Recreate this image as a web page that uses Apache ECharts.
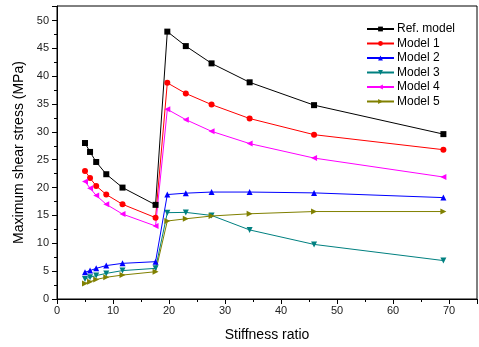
<!DOCTYPE html>
<html>
<head>
<meta charset="utf-8">
<script src="https://cdn.jsdelivr.net/npm/echarts@6/dist/echarts.min.js"></script>
<style>
  html, body { margin: 0; padding: 0; background: #fff; }
  #chart { width: 479px; height: 347px; }
</style>
</head>
<body>
<div id="chart"></div>
<script>
// stiffness ratio (x) for every series
const stiffness = [5.0, 5.9, 7.0, 8.8, 11.7, 17.6, 19.7, 23.0, 27.6, 34.4, 45.9, 69.0];

const refModel = [28.0, 26.4, 24.6, 22.4, 20.0, 16.9, 48.0, 45.4, 42.3, 38.9, 34.8, 29.6];
const model1 = [23.0, 21.7, 20.3, 18.75, 17.0, 14.6, 38.8, 36.9, 34.9, 32.4, 29.5, 26.8];
const model2 = [4.8, 5.1, 5.5, 6.0, 6.4, 6.7, 18.75, 19.0, 19.2, 19.2, 19.05, 18.2];
const model3 = [3.6, 3.9, 4.2, 4.6, 5.1, 5.5, 15.5, 15.55, 15.0, 12.4, 9.8, 6.9];
const model4 = [21.1, 19.9, 18.6, 17.0, 15.25, 13.1, 34.05, 32.2, 30.1, 27.9, 25.3, 21.9];
const model5 = [2.8, 3.1, 3.5, 3.9, 4.3, 4.9, 14.0, 14.4, 14.9, 15.3, 15.7, 15.7];

const seriesDefs = [
  { name: "Ref. model", values: refModel, color: "#000000", symbol: "rect", rotate: 0 },
  { name: "Model 1", values: model1, color: "#ff0000", symbol: "circle", rotate: 0 },
  { name: "Model 2", values: model2, color: "#0000ff", symbol: "triangle", rotate: 0 },
  { name: "Model 3", values: model3, color: "#008080", symbol: "triangle", rotate: 180 },
  { name: "Model 4", values: model4, color: "#ff00ff", symbol: "triangle", rotate: 90 },
  { name: "Model 5", values: model5, color: "#808000", symbol: "triangle", rotate: -90 },
];

const fontFamily = "'Liberation Sans', Arial, sans-serif";
const chart = echarts.init(document.getElementById("chart"), null, { renderer: "canvas" });

chart.setOption({
  animation: false,
  backgroundColor: "#fff",
  textStyle: { fontFamily },
  grid: {
    left: 57,
    top: 6,
    right: 2,
    bottom: 46,
    show: true,
    borderColor: "#000",
    borderWidth: 1,
  },
  legend: {
    orient: "vertical",
    left: 366,
    top: 23,
    padding: 0,
    itemWidth: 27,
    itemHeight: 6,
    itemGap: 2.5,
    textStyle: { fontSize: 12, color: "#000", fontFamily, padding: [0, 0, 0, -2] },
    data: seriesDefs.map((d) => d.name),
  },
  xAxis: {
    type: "value",
    min: 0,
    max: 75,
    interval: 10,
    name: "Stiffness ratio",
    nameLocation: "middle",
    nameGap: 29,
    nameTextStyle: { fontSize: 14, color: "#000", fontFamily },
    axisLine: { show: true, onZero: false, lineStyle: { color: "#000", width: 1 } },
    axisTick: { show: true, inside: false, length: 5, lineStyle: { color: "#000" } },
    minorTick: { show: true, splitNumber: 2, length: 3, lineStyle: { color: "#000" } },
    axisLabel: {
      color: "#222",
      fontSize: 11,
      margin: 6,
      showMaxLabel: false,
      formatter: (v) => (v % 10 === 0 ? String(v) : ""),
    },
    splitLine: { show: false },
  },
  yAxis: {
    type: "value",
    min: 0,
    max: 52.6,
    interval: 5,
    name: "Maximum shear stress (MPa)",
    nameLocation: "middle",
    nameGap: 31,
    nameTextStyle: { fontSize: 14, color: "#000", fontFamily },
    axisLine: { show: true, onZero: false, lineStyle: { color: "#000", width: 1 } },
    axisTick: { show: true, inside: false, length: 5, lineStyle: { color: "#000" } },
    minorTick: { show: true, splitNumber: 2, length: 3, lineStyle: { color: "#000" } },
    axisLabel: {
      color: "#222",
      fontSize: 11,
      margin: 8,
      showMaxLabel: false,
      formatter: (v) => (v % 5 === 0 ? String(v) : ""),
    },
    splitLine: { show: false },
  },
  series: seriesDefs.map((d) => ({
    name: d.name,
    type: "line",
    data: stiffness.map((x, i) => [x, d.values[i]]),
    symbol: d.symbol,
    symbolRotate: d.rotate,
    symbolSize: 6,
    showAllSymbol: true,
    lineStyle: { color: d.color, width: 1 },
    itemStyle: { color: d.color },
  })),
});
</script>
</body>
</html>
